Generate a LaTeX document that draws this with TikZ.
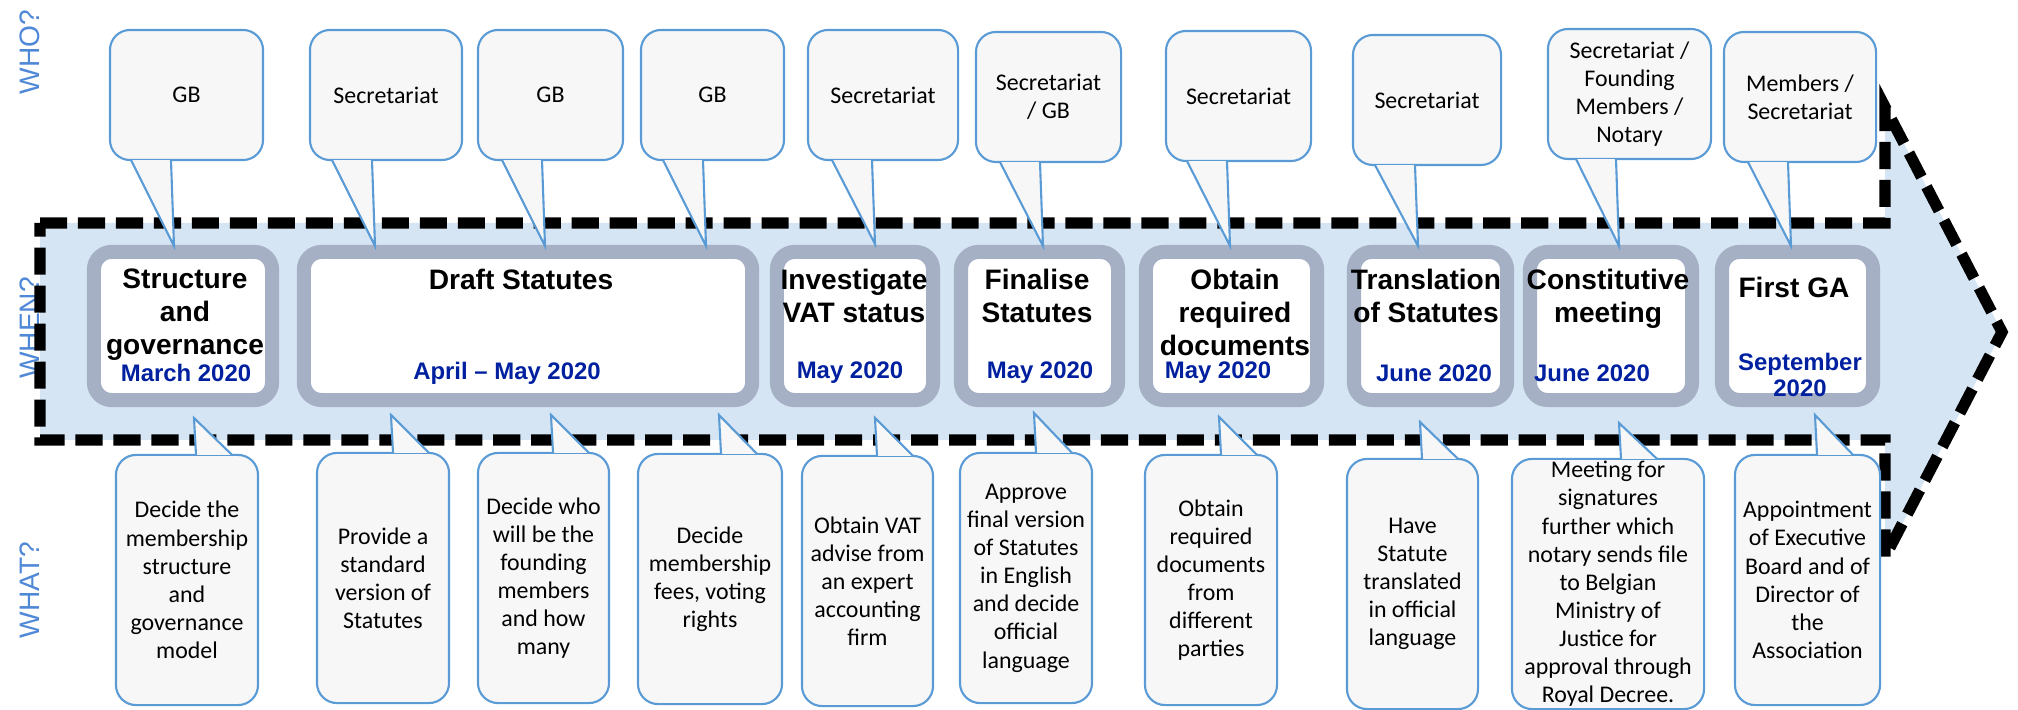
\documentclass[tikz,border=0pt]{standalone}
\usepackage{xcolor}
\usepackage{tikz}
\usetikzlibrary{calc}
\usepackage{fontspec}
\setmainfont{Carlito}
\setsansfont{Liberation Sans}

\definecolor{bandfill}{RGB}{213,229,244}
\definecolor{phaseline}{RGB}{166,176,196}
\definecolor{callfill}{RGB}{247,247,247}
\definecolor{callline}{RGB}{91,155,213}
\definecolor{axiscol}{RGB}{79,136,214}
\definecolor{datecol}{RGB}{0,32,160}

\begin{document}
\begin{tikzpicture}[x=0.01cm,y=-0.01cm,
	band/.style={fill=bandfill,draw=black,line width=3.2pt,dash pattern=on 7.7pt off 3.1pt},
	phase/.style={draw=phaseline,line width=4pt,fill=white,rounded corners=5pt,minimum height=1.48cm,inner sep=0pt},
	phasetitle/.style={anchor=north,inner sep=0pt,align=center,font=\sffamily\bfseries\fontsize{8}{9.4}\selectfont},
	phasedate/.style={inner sep=0pt,align=center,text=datecol,font=\sffamily\bfseries\fontsize{6.8}{7.4}\selectfont},
	who/.style={draw=callline,line width=0.6pt,fill=callfill,rounded corners=5.7pt,minimum height=1.3cm,inner sep=0pt,align=center,font=\fontsize{6.8}{8}\selectfont},
	what/.style={who,minimum height=2.5cm},
	ptr/.style={draw=callline,line width=0.6pt,fill=callfill},
	axislabel/.style={rotate=90,text=axiscol,font=\sffamily\fontsize{8}{9}\selectfont}
]
\useasboundingbox (0,0) rectangle (2018,710);

%	axis labels
\node[axislabel] (who) at (30,52) {WHO?};
\node[axislabel] (when) at (30,328) {WHEN?};
\node[axislabel] (what) at (30,590) {WHAT?};

%	timeline arrow
\draw[band] (40,223) -- (1885,223) -- (1885,107) -- (2002,332) -- (1885,557) -- (1885,440) -- (40,440) -- cycle;

%	phases
\node[phase,minimum width=1.78cm] (s1) at (183,326) {};
\node[phase,minimum width=4.48cm] (s2) at (528,326) {};
\node[phase,minimum width=1.56cm] (s3) at (855,326) {};
\node[phase,minimum width=1.57cm] (s4) at (1039.5,326) {};
\node[phase,minimum width=1.71cm] (s5) at (1231.5,326) {};
\node[phase,minimum width=1.53cm] (s6) at (1430.5,326) {};
\node[phase,minimum width=1.62cm] (s7) at (1611,326) {};
\node[phase,minimum width=1.51cm] (s8) at (1797.5,326) {};

%	phase titles
\node[phasetitle] (s1title) at (185,268) {Structure\\and\\governance};
\node[phasetitle] (s2title) at (521,268) {Draft Statutes};
\node[phasetitle] (s3title) at (854,268) {Investigate\\VAT status};
\node[phasetitle] (s4title) at (1037,268) {Finalise\\Statutes};
\node[phasetitle] (s5title) at (1235,268) {Obtain\\required\\documents};
\node[phasetitle] (s6title) at (1426,268) {Translation\\of Statutes};
\node[phasetitle] (s7title) at (1608,268) {Constitutive\\meeting};
\node[phasetitle] (s8title) at (1794,276) {First GA};

%	dates
\node[phasedate] (s1date) at (186,373) {March 2020};
\node[phasedate] (s2date) at (507,373) {April \textendash{} May 2020};
\node[phasedate] (s3date) at (850,373) {May 2020};
\node[phasedate] (s4date) at (1040,373) {May 2020};
\node[phasedate] (s5date) at (1218,373) {May 2020};
\node[phasedate] (s6date) at (1434,373) {June 2020};
\node[phasedate] (s7date) at (1592,373) {June 2020};
\node[phasedate] (s8date) at (1800,375) {September\\2020};

%	who bubbles
\node[who,minimum width=1.53cm] (w1) at (186.5,95) {GB};
\node[who,minimum width=1.52cm] (w2) at (386,95) {Secretariat};
\node[who,minimum width=1.45cm] (w3) at (550.5,95) {GB};
\node[who,minimum width=1.43cm] (w4) at (712.5,95) {GB};
\node[who,minimum width=1.50cm] (w5) at (883,95) {Secretariat};
\node[who,minimum width=1.45cm] (w6) at (1048.5,97) {Secretariat\\/ GB};
\node[who,minimum width=1.45cm] (w7) at (1238.5,96) {Secretariat};
\node[who,minimum width=1.48cm] (w8) at (1427,100) {Secretariat};
\node[who,minimum width=1.63cm] (w9) at (1629.5,94) {Secretariat /\\Founding\\Members /\\Notary};
\node[who,minimum width=1.52cm] (w10) at (1800,97) {Members /\\Secretariat};

%	who pointer tips
\coordinate (p1) at (174,246);
\coordinate (p2) at (375,246);
\coordinate (p3) at (545,246);
\coordinate (p4) at (706,246);
\coordinate (p5) at (875,244);
\coordinate (p6) at (1043,246);
\coordinate (p7) at (1230,246);
\coordinate (p8) at (1418,246);
\coordinate (p9) at (1619,246);
\coordinate (p10) at (1791,246);

\path[ptr] ($(p1 |- w1.south)+(-43,-1)$) -- (p1) -- ($(p1 |- w1.south)+(-3,-1)$);
\path[ptr] ($(p2 |- w2.south)+(-43,-1)$) -- (p2) -- ($(p2 |- w2.south)+(-3,-1)$);
\path[ptr] ($(p3 |- w3.south)+(-43,-1)$) -- (p3) -- ($(p3 |- w3.south)+(-3,-1)$);
\path[ptr] ($(p4 |- w4.south)+(-43,-1)$) -- (p4) -- ($(p4 |- w4.south)+(-3,-1)$);
\path[ptr] ($(p5 |- w5.south)+(-43,-1)$) -- (p5) -- ($(p5 |- w5.south)+(-3,-1)$);
\path[ptr] ($(p6 |- w6.south)+(-43,-1)$) -- (p6) -- ($(p6 |- w6.south)+(-3,-1)$);
\path[ptr] ($(p7 |- w7.south)+(-43,-1)$) -- (p7) -- ($(p7 |- w7.south)+(-3,-1)$);
\path[ptr] ($(p8 |- w8.south)+(-43,-1)$) -- (p8) -- ($(p8 |- w8.south)+(-3,-1)$);
\path[ptr] ($(p9 |- w9.south)+(-43,-1)$) -- (p9) -- ($(p9 |- w9.south)+(-3,-1)$);
\path[ptr] ($(p10 |- w10.south)+(-43,-1)$) -- (p10) -- ($(p10 |- w10.south)+(-3,-1)$);

%	what bubbles
\node[what,minimum width=1.42cm] (a1) at (187,580) {Decide the\\membership\\structure\\and\\governance\\model};
\node[what,minimum width=1.32cm] (a2) at (383,578) {Provide a\\standard\\version of\\Statutes};
\node[what,minimum width=1.31cm] (a3) at (543.5,578) {Decide who\\will be the\\founding\\members\\and how\\many};
\node[what,minimum width=1.44cm] (a4) at (710,579) {Decide\\membership\\fees, voting\\rights};
\node[what,minimum width=1.31cm] (a5) at (867.5,581) {Obtain VAT\\advise from\\an expert\\accounting\\firm};
\node[what,minimum width=1.32cm] (a6) at (1026,578) {Approve\\final version\\of Statutes\\in English\\and decide\\official\\language};
\node[what,minimum width=1.32cm] (a7) at (1211,580) {Obtain\\required\\documents\\from\\different\\parties};
\node[what,minimum width=1.31cm] (a8) at (1412.5,584) {Have\\Statute\\translated\\in official\\language};
\node[what,minimum width=1.92cm] (a9) at (1608,584) {Meeting for\\signatures\\further which\\notary sends file\\to Belgian\\Ministry of\\Justice for\\approval through\\Royal Decree.};
\node[what,minimum width=1.45cm] (a10) at (1807.5,580) {Appointment\\of Executive\\Board and of\\Director of\\the\\Association};

%	what pointer tips
\coordinate (q1) at (194,418);
\coordinate (q2) at (391,415);
\coordinate (q3) at (551,415);
\coordinate (q4) at (719,415);
\coordinate (q5) at (875,418);
\coordinate (q6) at (1034,413);
\coordinate (q7) at (1219,417);
\coordinate (q8) at (1420,422);
\coordinate (q9) at (1619,423);
\coordinate (q10) at (1815,415);

\path[ptr] ($(q1 |- a1.north)+(2,1)$) -- (q1) -- ($(q1 |- a1.north)+(38,1)$);
\path[ptr] ($(q2 |- a2.north)+(2,1)$) -- (q2) -- ($(q2 |- a2.north)+(38,1)$);
\path[ptr] ($(q3 |- a3.north)+(2,1)$) -- (q3) -- ($(q3 |- a3.north)+(38,1)$);
\path[ptr] ($(q4 |- a4.north)+(2,1)$) -- (q4) -- ($(q4 |- a4.north)+(38,1)$);
\path[ptr] ($(q5 |- a5.north)+(2,1)$) -- (q5) -- ($(q5 |- a5.north)+(38,1)$);
\path[ptr] ($(q6 |- a6.north)+(2,1)$) -- (q6) -- ($(q6 |- a6.north)+(38,1)$);
\path[ptr] ($(q7 |- a7.north)+(2,1)$) -- (q7) -- ($(q7 |- a7.north)+(38,1)$);
\path[ptr] ($(q8 |- a8.north)+(2,1)$) -- (q8) -- ($(q8 |- a8.north)+(38,1)$);
\path[ptr] ($(q9 |- a9.north)+(2,1)$) -- (q9) -- ($(q9 |- a9.north)+(38,1)$);
\path[ptr] ($(q10 |- a10.north)+(2,1)$) -- (q10) -- ($(q10 |- a10.north)+(38,1)$);
\end{tikzpicture}
\end{document}
